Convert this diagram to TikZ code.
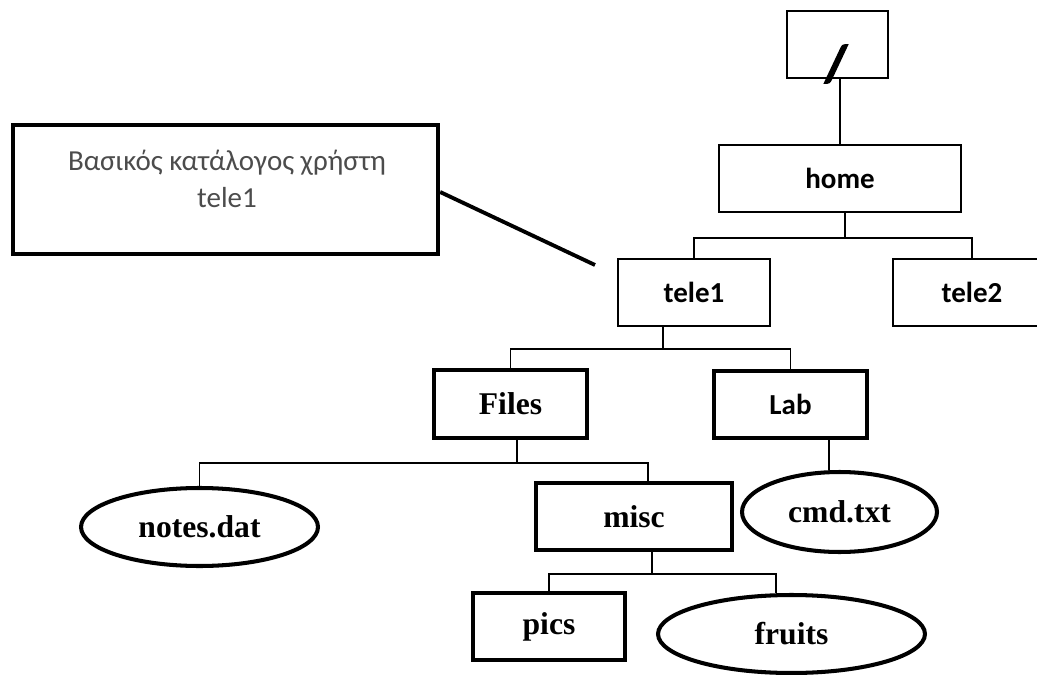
\documentclass[tikz,border=0pt]{standalone}
\usepackage{fontspec}
\setmainfont{Liberation Serif}
\newfontfamily\calibri{Carlito}
\newfontfamily\heavycal[FakeBold=3]{Carlito}
\usetikzlibrary{shapes.geometric}

\begin{document}
\begin{tikzpicture}[x=0.02cm, y=-0.02cm,
    dirthin/.style={draw, line width=1.1pt, inner sep=0pt,
        font=\calibri\bfseries\fontsize{16.5}{19}\selectfont},
    dirthick/.style={draw, line width=2.3pt, inner sep=0pt,
        font=\bfseries\fontsize{18}{20}\selectfont},
    filenode/.style={ellipse, draw, line width=2.3pt, inner sep=0pt,
        font=\bfseries\fontsize{18}{20}\selectfont},
    link/.style={line width=0.95pt}]
    \useasboundingbox (0,0) rectangle (1037,675);

    % ROOT AND HOME
    \node[dirthin, minimum width=2.02cm, minimum height=1.34cm] (root) at (837.5,44.5) {};
    \node[font=\heavycal\bfseries\fontsize{29}{29}\selectfont, inner sep=0pt] (slash) at (836,64) {/};
    \node[dirthin, minimum width=4.84cm, minimum height=1.34cm] (home) at (840,178.5) {home};

    % USERS
    \node[dirthin, minimum width=3.04cm, minimum height=1.34cm] (tele1) at (694,292.5) {tele1};
    \node[dirthin, minimum width=3.16cm, minimum height=1.34cm] (tele2) at (972,292.5) {tele2};

    % CONTENTS OF tele1
    \node[dirthick, minimum width=3.06cm, minimum height=1.36cm] (files) at (510.5,404) {Files};
    \node[dirthick, minimum width=3.06cm, minimum height=1.34cm,
        font=\calibri\bfseries\fontsize{16.5}{19}\selectfont] (lab) at (790.5,404.5) {Lab};
    \node[filenode, minimum width=4.74cm, minimum height=1.56cm] (notes) at (199.5,527) {notes.dat};
    \node[dirthick, minimum width=3.92cm, minimum height=1.34cm] (misc) at (634,516.5) {misc};
    \node[filenode, minimum width=3.9cm, minimum height=1.6cm] (cmd) at (839.5,512) {cmd.txt};
    \node[dirthick, minimum width=3.04cm, minimum height=1.34cm] (pics) at (549,626.5) {pics};
    \node[filenode, minimum width=5.34cm, minimum height=1.56cm] (fruits) at (791.5,634) {fruits};

    % Tree links
    \draw[link] (home.north |- root.south) -- (home.north);
    \draw[link] ([xshift=0.1cm]home.south) -- ++(0,25) -| (tele1.north);
    \draw[link] ([xshift=0.1cm]home.south) -- ++(0,25) -| (tele2.north);
    \draw[link] ([xshift=-0.62cm]tele1.south) -- ++(0,22) -| (files.north);
    \draw[link] ([xshift=-0.62cm]tele1.south) -- ++(0,22) -| (lab.north);
    \draw[link] ([xshift=0.13cm]files.south) -- ++(0,23) -| (notes.north);
    \draw[link] ([xshift=0.13cm]files.south) -- ++(0,23) -| ([xshift=0.28cm]misc.north);
    \draw[link] ([xshift=0.77cm]lab.south) -- ([xshift=-0.21cm]cmd.north);
    \draw[link] ([xshift=0.36cm]misc.south) -- ++(0,22) -| (pics.north);
    \draw[link] ([xshift=0.36cm]misc.south) -- ++(0,22) -| ([xshift=-0.31cm]fruits.north);

    % CALLOUT
    \node[draw, line width=2.5pt, minimum width=8.5cm, minimum height=2.58cm] (note) at (225.5,189.5) {};
    \node[align=center, text=black!70, font=\calibri\fontsize{16.5}{21.5}\selectfont] (notetext)
        at (227,179) {Βασικός κατάλογος χρήστη\\tele1};
    \coordinate (tip) at (595,265);
    \draw[line width=2.2pt] ([yshift=-0.05cm]note.east) -- (tip);
\end{tikzpicture}
\end{document}
